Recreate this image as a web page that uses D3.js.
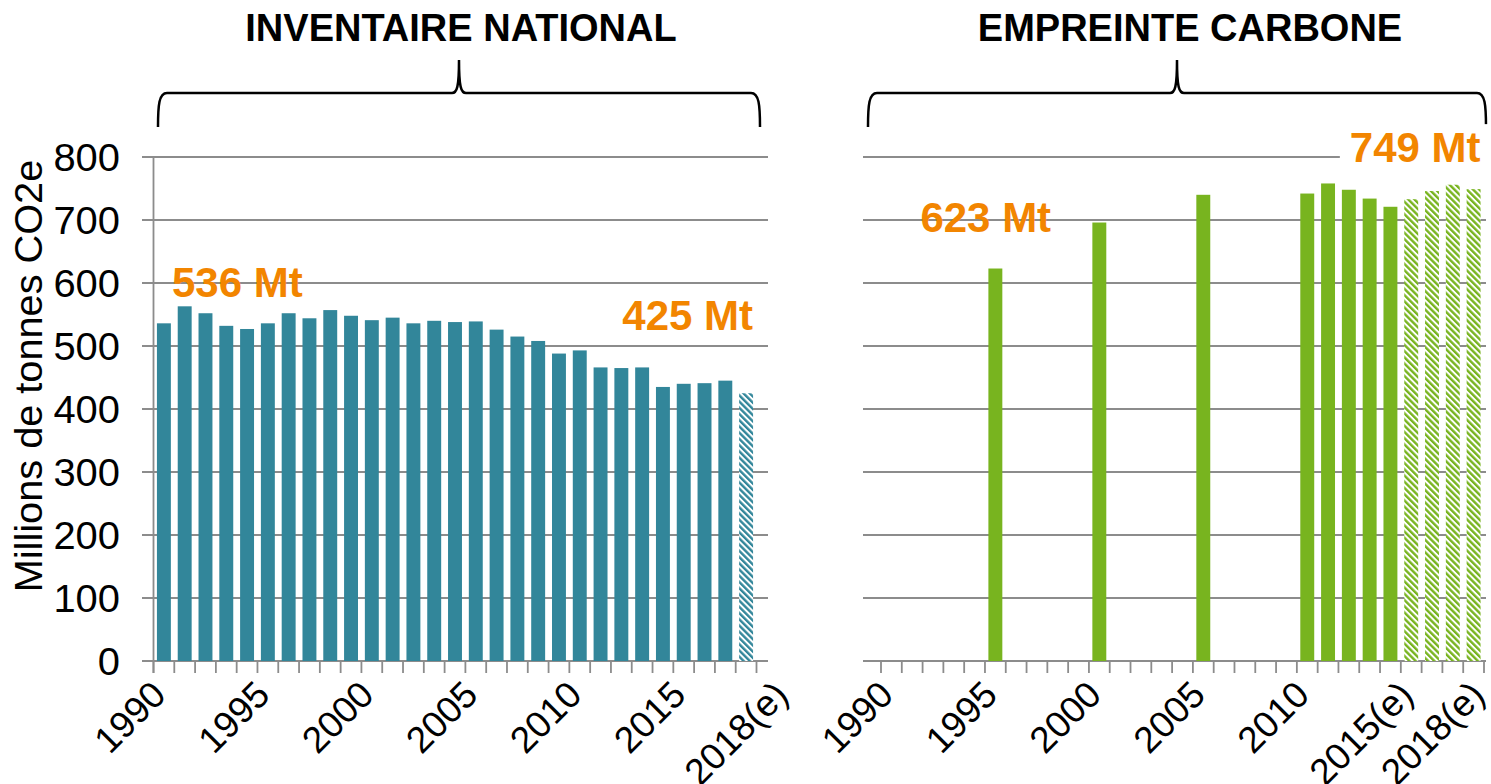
<!DOCTYPE html>
<html>
<head>
<meta charset="utf-8">
<script src="https://cdn.jsdelivr.net/npm/d3@7"></script>
<style>
  body { margin: 0; background: #fff; }
  text { font-family: "Liberation Sans", Arial, sans-serif; }
</style>
</head>
<body>
<div id="chart"></div>
<script>
// Data
const years = [1990, 1991, 1992, 1993, 1994, 1995, 1996, 1997, 1998, 1999,
               2000, 2001, 2002, 2003, 2004, 2005, 2006, 2007, 2008, 2009,
               2010, 2011, 2012, 2013, 2014, 2015, 2016, 2017, 2018];

// Inventaire national (Mt CO2e), 2018 estimated
const inventaire = [536, 563, 552, 532, 527, 536, 552, 544, 557, 548,
                    541, 545, 536, 540, 538, 539, 526, 515, 508, 488,
                    493, 466, 465, 466, 435, 440, 441, 445, 425];
const inventaireEstimated = [2018];

// Empreinte carbone (Mt CO2e), only some years, 2015-2018 estimated
const empreinteYears = [1995, 2000, 2005, 2010, 2011, 2012, 2013, 2014, 2015, 2016, 2017, 2018];
const empreinte = [623, 696, 740, 742, 758, 748, 734, 721, 733, 746, 756, 749];
const empreinteEstimated = [2015, 2016, 2017, 2018];

const yTicks = [0, 100, 200, 300, 400, 500, 600, 700, 800];

const leftLabels = [[1990, "1990"], [1995, "1995"], [2000, "2000"], [2005, "2005"],
                    [2010, "2010"], [2015, "2015"], [2018, "2018(e)"]];
const rightLabels = [[1990, "1990"], [1995, "1995"], [2000, "2000"], [2005, "2005"],
                     [2010, "2010"], [2015, "2015(e)"], [2018, "2018(e)"]];

const titles = ["INVENTAIRE NATIONAL", "EMPREINTE CARBONE"];
const yLabel = "Millions de tonnes CO2e";

// Layout
const width = 1491;
const height = 784;
const teal = "#32869A";
const green = "#78B41F";
const orange = "#F28500";
const grid = "#8C8C8C";

const svg = d3.select("#chart")
    .append("svg")
    .attr("width", width)
    .attr("height", height);

const defs = svg.append("defs");
function hatch(id, color) {
    const p = defs.append("pattern")
        .attr("id", id)
        .attr("patternUnits", "userSpaceOnUse")
        .attr("width", 4.4)
        .attr("height", 4.4)
        .attr("patternTransform", "rotate(-45)");
    p.append("rect").attr("width", 4.4).attr("height", 4.4).attr("fill", "#fff");
    p.append("rect").attr("width", 2.4).attr("height", 4.4).attr("fill", color);
}
hatch("hatchTeal", teal);
hatch("hatchGreen", green);

const y = d3.scaleLinear().domain([0, 800]).range([661, 157]);

const xL = d3.scaleBand().domain(years).range([153.5, 756.5])
    .paddingInner(0.33).paddingOuter(0.165);
const xR = d3.scaleBand().domain(years).range([881, 1484])
    .paddingInner(0.33).paddingOuter(0.165);

// Gridlines
function gridlines(x0, x1) {
    svg.append("g")
        .selectAll("line")
        .data(yTicks)
        .enter()
        .append("line")
        .attr("x1", x0)
        .attr("x2", x1)
        .attr("y1", d => y(d))
        .attr("y2", d => y(d))
        .attr("stroke", grid)
        .attr("stroke-width", 1.8);
}
gridlines(142, 768);
gridlines(863, 1486);

// Category ticks below the axis, at the band boundaries
function catTicks(x) {
    const r = x.range();
    const step = x.step();
    svg.append("g")
        .selectAll("line")
        .data(d3.range(years.length + 1))
        .enter()
        .append("line")
        .attr("x1", k => r[0] + k * step)
        .attr("x2", k => r[0] + k * step)
        .attr("y1", y(0))
        .attr("y2", y(0) + 12)
        .attr("stroke", grid)
        .attr("stroke-width", 1.8);
}
catTicks(xL);
catTicks(xR);

// Left y axis line
svg.append("line")
    .attr("x1", xL.range()[0]).attr("x2", xL.range()[0])
    .attr("y1", y(800)).attr("y2", y(0) + 12)
    .attr("stroke", grid).attr("stroke-width", 1.8);

// Bars - inventaire
svg.append("g")
    .selectAll("rect")
    .data(years.map((yr, i) => ({ year: yr, value: inventaire[i] })))
    .enter()
    .append("rect")
    .attr("x", d => xL(d.year))
    .attr("width", xL.bandwidth())
    .attr("y", d => y(d.value))
    .attr("height", d => y(0) - y(d.value))
    .attr("fill", d => inventaireEstimated.includes(d.year) ? "url(#hatchTeal)" : teal);

// Bars - empreinte
svg.append("g")
    .selectAll("rect")
    .data(empreinteYears.map((yr, i) => ({ year: yr, value: empreinte[i] })))
    .enter()
    .append("rect")
    .attr("x", d => xR(d.year))
    .attr("width", xR.bandwidth())
    .attr("y", d => y(d.value))
    .attr("height", d => y(0) - y(d.value))
    .attr("fill", d => empreinteEstimated.includes(d.year) ? "url(#hatchGreen)" : green);

// Y tick labels
svg.append("g")
    .selectAll("text")
    .data(yTicks)
    .enter()
    .append("text")
    .attr("transform", d => `translate(120,${y(d)}) scale(1.05,1)`)
    .attr("dy", "0.36em")
    .attr("text-anchor", "end")
    .attr("font-size", 38)
    .attr("fill", "#000")
    .text(d => d);

// Y axis title
svg.append("text")
    .attr("transform", "translate(42,376) rotate(-90) scale(1.045,1)")
    .attr("text-anchor", "middle")
    .attr("font-size", 38)
    .attr("fill", "#000")
    .text(yLabel);

// X tick labels
function xLabels(x, labels, lastNudge) {
    svg.append("g")
        .selectAll("text")
        .data(labels)
        .enter()
        .append("text")
        .attr("transform", (d, i) => {
            const cx = x(d[0]) + x.bandwidth() / 2 + 4 + (i === labels.length - 1 ? lastNudge : 0);
            return `translate(${cx},697) rotate(-45)`;
        })
        .attr("text-anchor", "end")
        .attr("font-size", 37)
        .attr("fill", "#000")
        .text(d => d[1]);
}
xLabels(xL, leftLabels, 40);
xLabels(xR, rightLabels, 9);

// Titles and braces
function brace(x0, x1) {
    const xm = (x0 + x1) / 2, yPeak = 60, yMid = 93, yEnd = 127;
    return `M${x0},${yEnd} C${x0},${yEnd - 22} ${x0 + 1},${yMid} ${x0 + 9},${yMid}`
        + ` L${xm - 7},${yMid} C${xm - 2},${yMid} ${xm},${yMid - 6} ${xm},${yPeak}`
        + ` C${xm},${yMid - 6} ${xm + 2},${yMid} ${xm + 7},${yMid}`
        + ` L${x1 - 9},${yMid} C${x1 - 1},${yMid} ${x1},${yEnd - 22} ${x1},${yEnd}`;
}
const braceSpans = [[158, 760], [868, 1486]];
braceSpans.forEach((s, i) => {
    svg.append("path")
        .attr("d", brace(s[0], s[1]))
        .attr("fill", "none")
        .attr("stroke", "#000")
        .attr("stroke-width", 2.5);
    svg.append("text")
        .attr("x", i === 0 ? 461 : 1190)
        .attr("y", 41)
        .attr("text-anchor", "middle")
        .attr("font-size", 38)
        .attr("font-weight", "bold")
        .attr("fill", "#000")
        .text(titles[i]);
});

// Value annotations
function note(x, yPos, anchor, txt, bg) {
    const t = svg.append("text")
        .attr("x", x)
        .attr("y", yPos)
        .attr("text-anchor", anchor)
        .attr("font-size", 42)
        .attr("font-weight", "bold")
        .attr("fill", orange)
        .text(txt);
    if (bg) {
        const b = t.node().getBBox();
        svg.insert("rect", () => t.node())
            .attr("x", b.x - 10).attr("y", b.y)
            .attr("width", b.width + 20).attr("height", b.height)
            .attr("fill", "#fff");
    }
}
note(xL(1990) + 15, y(inventaire[0]) - 26, "start", inventaire[0] + " Mt", false);
note(xL(2018) + xL.bandwidth(), y(inventaire[28]) - 63, "end", inventaire[28] + " Mt", false);
note(xR(1995) - 68, y(empreinte[0]) - 37, "start", empreinte[0] + " Mt", false);
note(xR(2018) + xR.bandwidth(), y(empreinte[11]) - 27, "end", empreinte[11] + " Mt", true);
</script>
</body>
</html>
